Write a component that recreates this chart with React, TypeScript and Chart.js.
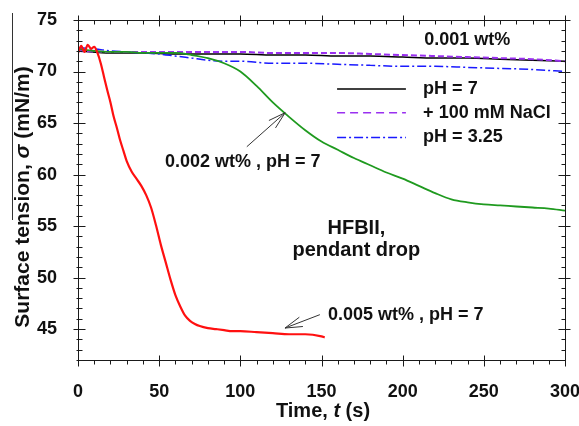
import React, { useEffect, useRef } from "react";
import { Chart, registerables } from "chart.js";

Chart.register(...registerables);

// ---- axis ranges / ticks ----
const X_MIN = 0;
const X_MAX = 300;
const Y_MIN = 42;
const Y_MAX = 75;
const xMajorTicks = [0, 50, 100, 150, 200, 250, 300];
const yMajorTicks = [45, 50, 55, 60, 65, 70, 75];
const X_MINOR_STEP = 10;
const Y_MINOR_STEP = 1;

// ---- 0.005 wt%, pH = 7 (red) ----
const redTime = [0, 2, 4, 6, 8, 10, 12, 14, 16, 18, 20, 22, 24, 26, 28, 30, 33, 36, 39, 42, 45, 48, 51, 54, 57, 60, 63, 66, 69, 72, 75, 80, 85, 90, 95, 100, 110, 120, 130, 140, 150, 152];
const redSigma = [71.8, 72.5, 71.9, 72.6, 72.2, 72.4, 71.8, 70.8, 69.5, 68.2, 67.0, 65.6, 64.5, 63.3, 62.3, 61.3, 60.3, 59.6, 58.9, 58.0, 56.8, 55.1, 53.2, 51.5, 49.8, 48.3, 47.2, 46.3, 45.8, 45.5, 45.3, 45.1, 45.0, 44.9, 44.8, 44.8, 44.7, 44.6, 44.5, 44.5, 44.3, 44.2];

// ---- 0.002 wt%, pH = 7 (green) ----
const greenTime = [0, 10, 20, 30, 40, 50, 60, 70, 80, 90, 100, 110, 120, 130, 140, 150, 160, 170, 180, 190, 200, 210, 220, 230, 240, 250, 260, 270, 280, 290, 300];
const greenSigma = [72.2, 72.0, 71.9, 71.9, 71.8, 71.8, 71.8, 71.6, 71.3, 70.8, 70.0, 68.6, 67.0, 65.6, 64.3, 63.2, 62.4, 61.6, 60.9, 60.2, 59.6, 58.9, 58.2, 57.6, 57.3, 57.1, 57.0, 56.9, 56.8, 56.7, 56.5];

// ---- 0.001 wt% series ----
const lowTime = [0, 20, 40, 60, 80, 100, 120, 140, 160, 180, 200, 220, 240, 260, 280, 300];
const ph7Sigma = [72.0, 71.8, 71.8, 71.7, 71.7, 71.7, 71.6, 71.6, 71.5, 71.5, 71.4, 71.3, 71.3, 71.2, 71.1, 71.0];
const naclSigma = [72.0, 71.9, 71.9, 71.9, 71.9, 71.9, 71.8, 71.8, 71.8, 71.7, 71.6, 71.5, 71.4, 71.3, 71.2, 71.0];

const acidTime = [0, 10, 20, 30, 40, 50, 60, 70, 80, 90, 100, 120, 140, 160, 180, 200, 220, 240, 260, 280, 300];
const acidSigma = [72.3, 72.2, 72.0, 71.9, 71.8, 71.7, 71.5, 71.3, 71.1, 71.0, 71.0, 70.8, 70.8, 70.7, 70.6, 70.5, 70.5, 70.4, 70.3, 70.2, 70.0];

// ---- labels ----
const legendLabels = ["pH = 7", "+ 100 mM NaCl", "pH = 3.25"];
const FONT = '"Liberation Sans", Arial, sans-serif';

const toPoints = (t: number[], v: number[]) => t.map((x, i) => ({ x, y: v[i] }));

function drawArrow(ctx: CanvasRenderingContext2D, x1: number, y1: number, x2: number, y2: number) {
  const ang = Math.atan2(y2 - y1, x2 - x1);
  const L = 18;
  const th = 0.28;
  ctx.beginPath();
  ctx.moveTo(x1, y1);
  ctx.lineTo(x2, y2);
  ctx.moveTo(x2 - L * Math.cos(ang - th), y2 - L * Math.sin(ang - th));
  ctx.lineTo(x2, y2);
  ctx.lineTo(x2 - L * Math.cos(ang + th), y2 - L * Math.sin(ang + th));
  ctx.stroke();
}

function drawMixed(ctx: CanvasRenderingContext2D, parts: [string, boolean][], size: number, cx: number, cy: number) {
  const fontOf = (it: boolean) => `${it ? "italic " : ""}bold ${size}px ${FONT}`;
  let total = 0;
  for (const [s, it] of parts) {
    ctx.font = fontOf(it);
    total += ctx.measureText(s).width;
  }
  let x = cx - total / 2;
  ctx.textAlign = "left";
  ctx.textBaseline = "middle";
  for (const [s, it] of parts) {
    ctx.font = fontOf(it);
    ctx.fillText(s, x, cy);
    x += ctx.measureText(s).width;
  }
}

const overlayPlugin = {
  id: "overlay",
  afterDraw(chart: any) {
    const { ctx, chartArea, scales } = chart;
    const { left, right, top, bottom } = chartArea;
    const xs = scales.x;
    const ys = scales.y;
    const px = (v: number) => xs.getPixelForValue(v);
    const py = (v: number) => ys.getPixelForValue(v);
    ctx.save();

    // frame
    ctx.strokeStyle = "#1a1a1a";
    ctx.lineWidth = 1;
    const L = Math.round(left) + 0.5;
    const R = Math.round(right) + 0.5;
    const T = Math.round(top) + 0.5;
    const B = Math.round(bottom) + 0.5;
    ctx.strokeRect(L, T, R - L, B - T);

    // ticks
    ctx.beginPath();
    for (let v = X_MIN; v <= X_MAX + 1e-6; v += X_MINOR_STEP) {
      const major = xMajorTicks.includes(v);
      const x = Math.round(px(v)) + 0.5;
      if (major) {
        ctx.moveTo(x, B - 5); ctx.lineTo(x, B + 6);
        ctx.moveTo(x, T - 5); ctx.lineTo(x, T + 6);
      } else {
        ctx.moveTo(x, B); ctx.lineTo(x, B + 4);
        ctx.moveTo(x, T); ctx.lineTo(x, T + 4);
      }
    }
    for (let v = Y_MIN; v <= Y_MAX + 1e-6; v += Y_MINOR_STEP) {
      const major = yMajorTicks.includes(v);
      const y = Math.round(py(v)) + 0.5;
      if (major) {
        ctx.moveTo(L - 5, y); ctx.lineTo(L + 7, y);
        ctx.moveTo(R - 7, y); ctx.lineTo(R + 5, y);
      } else {
        ctx.moveTo(L - 2, y); ctx.lineTo(L + 4, y);
        ctx.moveTo(R - 4, y); ctx.lineTo(R, y);
      }
    }
    ctx.stroke();

    // axis titles
    ctx.fillStyle = "#111";
    drawMixed(ctx, [["Time, ", false], ["t", true], [" (s)", false]], 20, 323, 411);
    ctx.save();
    ctx.translate(23, 197);
    ctx.rotate(-Math.PI / 2);
    drawMixed(ctx, [["Surface tension, ", false], ["\u03c3", true], [" (mN/m)", false]], 21, 0, 0);
    ctx.restore();

    // stray line left of the y title
    ctx.strokeStyle = "#333";
    ctx.beginPath();
    ctx.moveTo(12.5, 13);
    ctx.lineTo(12.5, 220);
    ctx.stroke();

    // annotations
    ctx.fillStyle = "#111";
    ctx.textBaseline = "middle";
    ctx.textAlign = "left";
    ctx.font = `bold 18px ${FONT}`;
    ctx.fillText("0.001 wt%", px(213.3), py(73.1));
    ctx.fillText("0.002 wt% , pH = 7", px(53.6), py(61.2));
    ctx.fillText("0.005 wt% , pH = 7", px(154), py(46.35));
    ctx.textAlign = "center";
    ctx.font = `bold 20px ${FONT}`;
    ctx.fillText("HFBII,", px(171.5), py(54.8));
    ctx.fillText("pendant drop", px(171.5), py(52.6));

    // arrows
    ctx.strokeStyle = "#333";
    ctx.lineWidth = 1;
    drawArrow(ctx, px(104), py(62.7), px(127.6), py(66.0));
    drawArrow(ctx, px(149), py(46.4), px(127.5), py(45.1));

    // legend
    const legY = [68.3, 66.0, 63.6];
    const styles = [
      { c: "#000000", d: [] as number[], w: 1.5 },
      { c: "#9a30f0", d: [8, 5], w: 1.5 },
      { c: "#1a1aff", d: [9, 3, 2, 3], w: 1.5 },
    ];
    ctx.textAlign = "left";
    ctx.font = `bold 18px ${FONT}`;
    legendLabels.forEach((lab, i) => {
      const y = py(legY[i]);
      ctx.save();
      ctx.strokeStyle = styles[i].c;
      ctx.lineWidth = styles[i].w;
      ctx.setLineDash(styles[i].d);
      ctx.beginPath();
      ctx.moveTo(px(159.6), y);
      ctx.lineTo(px(202), y);
      ctx.stroke();
      ctx.restore();
      ctx.fillStyle = "#111";
      ctx.fillText(lab, px(212.6), y);
    });

    ctx.restore();
  },
};

export default function App() {
  const ref = useRef<HTMLCanvasElement | null>(null);
  useEffect(() => {
    if (!ref.current) return;
    const chart = new Chart(ref.current, {
      type: "line",
      data: {
        datasets: [
          { label: "0.005 wt%", data: toPoints(redTime, redSigma), borderColor: "#ff1010", borderWidth: 2.2, pointRadius: 0, cubicInterpolationMode: "monotone" },
          { label: "0.002 wt%", data: toPoints(greenTime, greenSigma), borderColor: "#1f9a1f", borderWidth: 1.8, pointRadius: 0, cubicInterpolationMode: "monotone" },
          { label: "+ 100 mM NaCl", data: toPoints(lowTime, naclSigma), borderColor: "#9a30f0", borderWidth: 2, borderDash: [6, 3], pointRadius: 0, cubicInterpolationMode: "monotone" },
          { label: "pH = 3.25", data: toPoints(acidTime, acidSigma), borderColor: "#1a1aff", borderWidth: 1.5, borderDash: [9, 3, 2, 3], pointRadius: 0, cubicInterpolationMode: "monotone" },
          { label: "pH = 7", data: toPoints(lowTime, ph7Sigma), borderColor: "#000000", borderWidth: 1.5, pointRadius: 0, cubicInterpolationMode: "monotone" },
        ],
      },
      options: {
        animation: false,
        responsive: false,
        maintainAspectRatio: false,
        layout: { padding: { top: 20, right: 14, left: 0, bottom: 0 } },
        plugins: { legend: { display: false }, tooltip: { enabled: false } },
        scales: {
          x: {
            type: "linear",
            min: X_MIN,
            max: X_MAX,
            grid: { display: false },
            border: { display: false },
            afterBuildTicks: (s: any) => { s.ticks = xMajorTicks.map((v) => ({ value: v })); },
            afterFit: (s: any) => { s.height = 66; s.paddingLeft = 0; s.paddingRight = 0; },
            ticks: { padding: 13, color: "#111", font: { family: FONT, weight: "bold", size: 18 }, maxRotation: 0, autoSkip: false },
          },
          y: {
            type: "linear",
            min: Y_MIN,
            max: Y_MAX,
            grid: { display: false },
            border: { display: false },
            afterBuildTicks: (s: any) => { s.ticks = yMajorTicks.map((v) => ({ value: v })); },
            afterFit: (s: any) => { s.width = 78; s.paddingTop = 0; s.paddingBottom = 0; },
            ticks: { padding: 13, color: "#111", font: { family: FONT, weight: "bold", size: 18 }, autoSkip: false },
          },
        },
      },
      plugins: [overlayPlugin],
    } as any);
    return () => chart.destroy();
  }, []);
  return (
    <div style={{ position: "fixed", left: 0, top: 0, width: 579, height: 426, background: "#fff" }}>
      <canvas ref={ref} width={579} height={426} style={{ display: "block" }} />
    </div>
  );
}
